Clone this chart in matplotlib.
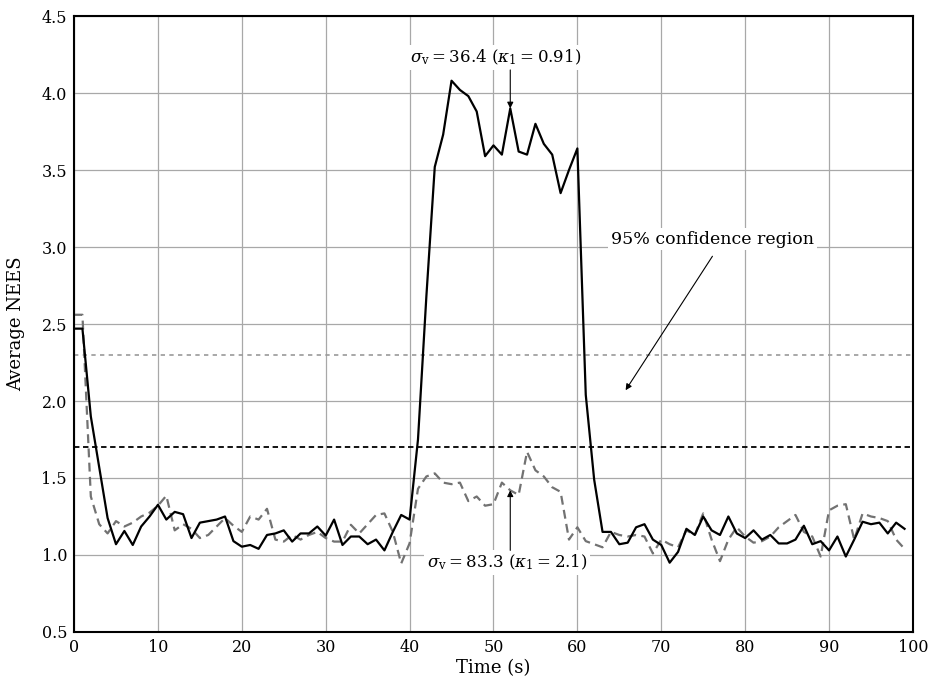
import matplotlib
matplotlib.use("Agg")
import matplotlib.pyplot as plt

plt.rcParams['font.family'] = ['DejaVu Serif']
plt.rcParams['mathtext.fontset'] = 'dejavuserif'

time = list(range(100))

# sigma_v = 36.4 (solid black)
nees_364 = [2.47, 2.47, 1.90, 1.57, 1.24, 1.07, 1.156, 1.065, 1.185, 1.25,
            1.326, 1.23, 1.28, 1.265, 1.11, 1.21, 1.22, 1.23, 1.25, 1.09,
            1.054, 1.065, 1.04, 1.13, 1.14, 1.16, 1.087, 1.14, 1.14, 1.185,
            1.126, 1.23, 1.065, 1.12, 1.12, 1.07, 1.10, 1.03, 1.15, 1.26,
            1.23, 1.75, 2.68, 3.52, 3.73, 4.08, 4.02, 3.98, 3.88, 3.59,
            3.66, 3.60, 3.90, 3.62, 3.60, 3.80, 3.67, 3.60, 3.35, 3.50,
            3.64, 2.04, 1.49, 1.15, 1.15, 1.07, 1.08, 1.18, 1.20, 1.10,
            1.065, 0.95, 1.02, 1.17, 1.13, 1.25, 1.16, 1.13, 1.25, 1.14,
            1.11, 1.16, 1.10, 1.13, 1.075, 1.075, 1.10, 1.19, 1.07, 1.09,
            1.03, 1.12, 0.99, 1.10, 1.216, 1.20, 1.21, 1.14, 1.21, 1.17]

# sigma_v = 83.3 (dashed grey)
nees_833 = [2.56, 2.56, 1.38, 1.20, 1.14, 1.22, 1.185, 1.21, 1.25, 1.275,
            1.32, 1.385, 1.16, 1.20, 1.17, 1.11, 1.13, 1.185, 1.24, 1.19,
            1.15, 1.25, 1.23, 1.30, 1.10, 1.087, 1.13, 1.10, 1.13, 1.15,
            1.11, 1.087, 1.087, 1.196, 1.14, 1.20, 1.26, 1.27, 1.15, 0.945,
            1.076, 1.43, 1.51, 1.53, 1.47, 1.46, 1.47, 1.35, 1.38, 1.32,
            1.33, 1.47, 1.42, 1.39, 1.67, 1.55, 1.51, 1.44, 1.41, 1.10,
            1.18, 1.09, 1.07, 1.05, 1.15, 1.13, 1.12, 1.13, 1.12, 1.01,
            1.10, 1.07, 1.05, 1.16, 1.13, 1.27, 1.10, 0.96, 1.10, 1.18,
            1.12, 1.08, 1.09, 1.12, 1.18, 1.22, 1.26, 1.15, 1.12, 0.99,
            1.29, 1.32, 1.33, 1.10, 1.27, 1.25, 1.24, 1.22, 1.10, 1.04]

upper_bound = 2.3
lower_bound = 1.7

fig = plt.figure(figsize=(9.29, 6.91), dpi=100)
ax = fig.add_axes([0.0797, 0.0854, 0.9030, 0.8914])

ax.grid(True, color='#a8a8a8', lw=0.9)
ax.set_axisbelow(True)

ax.axhline(upper_bound, color='#9a9a9a', lw=1.2, dashes=(2.6, 2.6))
ax.axhline(lower_bound, color='black', lw=1.3, dashes=(3.0, 2.0))
ax.plot(time, nees_833, color='#727272', lw=1.6, dashes=(4.0, 2.4))
ax.plot(time, nees_364, color='black', lw=1.6)

ax.set_xlim(0, 100)
ax.set_ylim(0.5, 4.5)
ax.set_xticks(range(0, 101, 10))
ax.set_yticks([0.5, 1.0, 1.5, 2.0, 2.5, 3.0, 3.5, 4.0, 4.5])
ax.set_yticklabels(['0.5', '1.0', '1.5', '2.0', '2.5', '3.0', '3.5', '4.0', '4.5'])
ax.tick_params(length=0, labelsize=11.5, pad=5)
for s in ax.spines.values():
    s.set_linewidth(1.5)

ax.set_xlabel('Time (s)', fontsize=13, labelpad=2)
ax.set_ylabel('Average NEES', fontsize=13, labelpad=12)

arr = dict(arrowstyle='-|>', lw=0.8, color='black', mutation_scale=9,
           shrinkA=0, shrinkB=0)
box = dict(boxstyle='square,pad=0.15', fc='white', ec='none')
ts = '\u2009'

ax.text(50.3, 4.23, r'$\sigma_{\rm v}$' + ts + '=' + ts + '36.4 (' + r'$\kappa_1$'
        + ts + '=' + ts + '0.91)', ha='center', va='center', fontsize=12,
        bbox=box)
ax.annotate('', xy=(52, 3.90), xytext=(52, 4.15), arrowprops=arr)

ax.text(51.6, 0.95, r'$\sigma_{\rm v}$' + ts + '=' + ts + '83.3 (' + r'$\kappa_1$'
        + ts + '=' + ts + '2.1)', ha='center', va='center', fontsize=12,
        bbox=box)
ax.annotate('', xy=(52, 1.42), xytext=(52, 1.03), arrowprops=arr)

ax.text(76.1, 3.05, '95% confidence region', ha='center', va='center',
        fontsize=12.5, bbox=box)
ax.annotate('', xy=(65.75, 2.07), xytext=(76.1, 2.94), arrowprops=arr)

fig.savefig('out.png', dpi=100)
